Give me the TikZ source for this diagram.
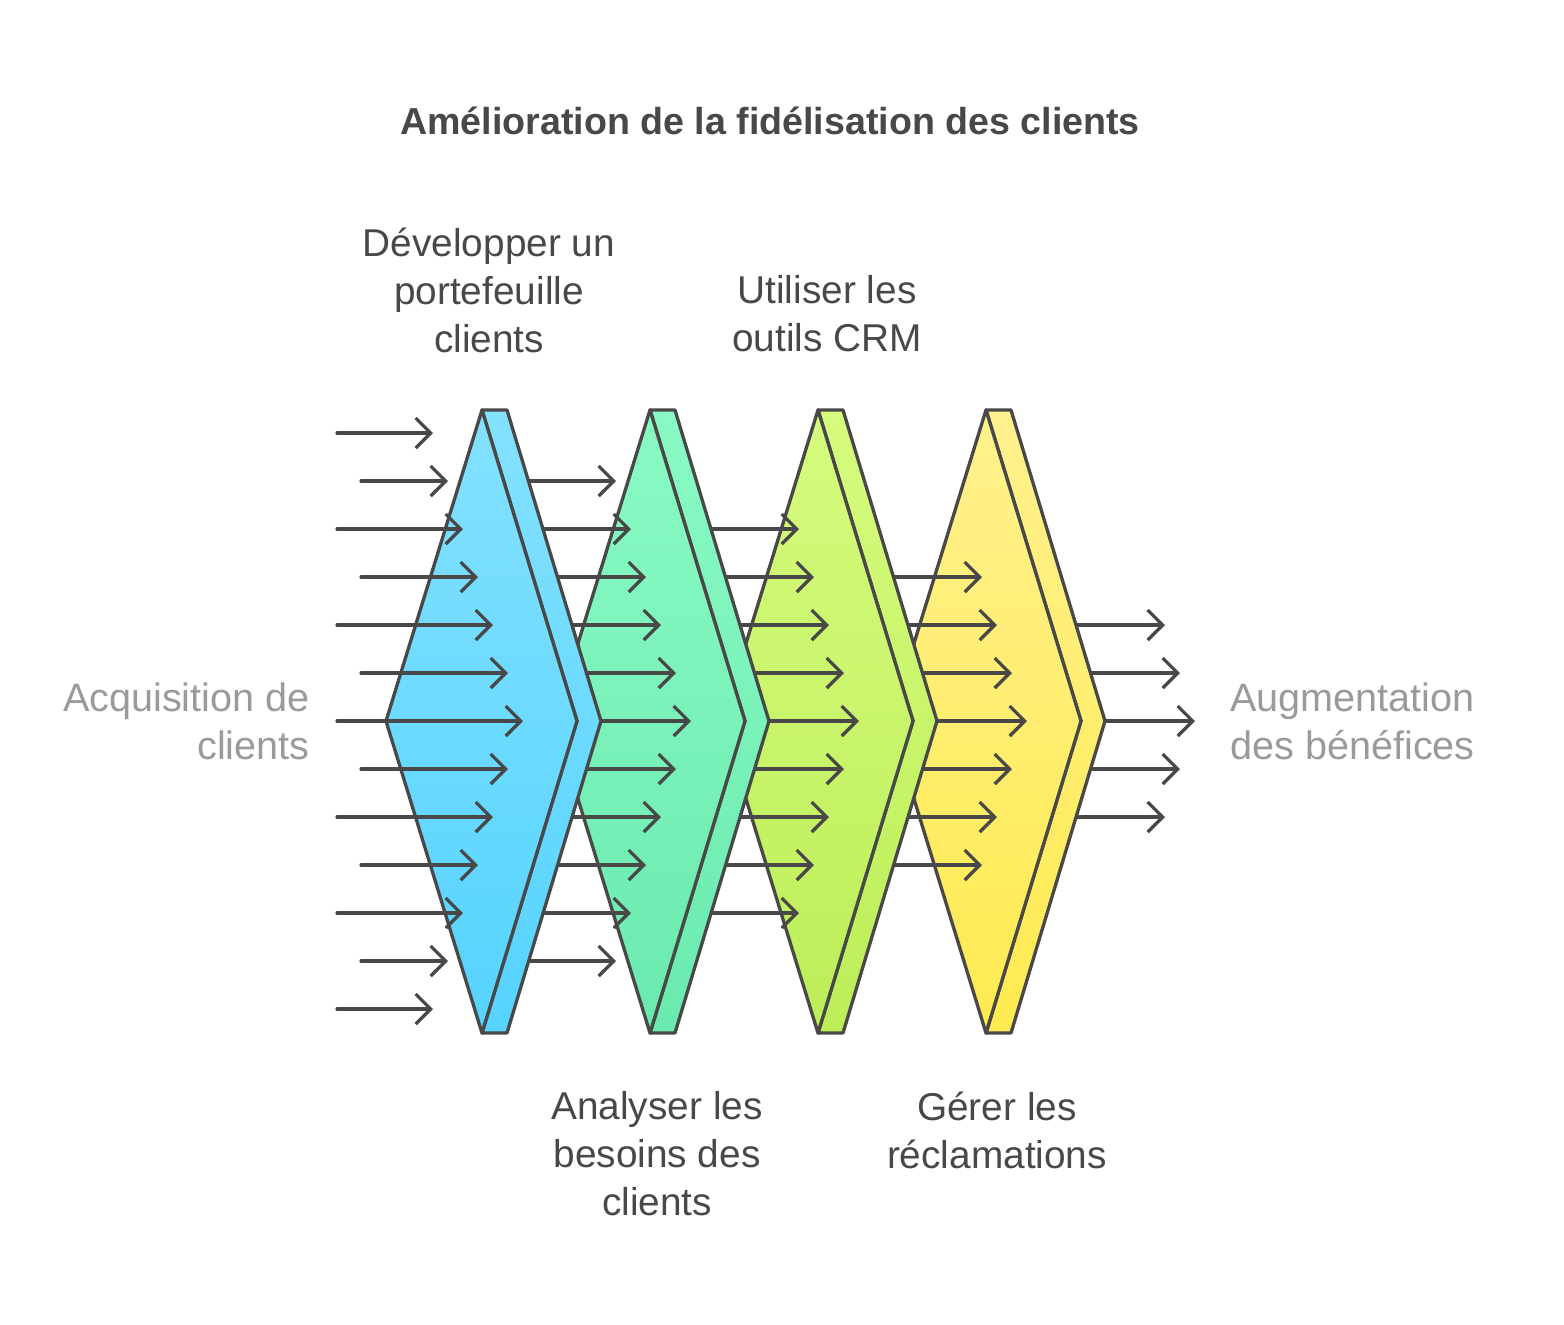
\documentclass[tikz,border=0pt]{standalone}
\usepackage{fontspec}
\setmainfont{Liberation Sans}
\usetikzlibrary{arrows.meta, positioning}

\definecolor{ink}{HTML}{484848}
\definecolor{soft}{HTML}{9A9A9A}
\definecolor{blueT}{HTML}{84E1FF}
\definecolor{blueB}{HTML}{55D3FF}
\definecolor{greenT}{HTML}{8AFAC4}
\definecolor{greenB}{HTML}{6AEAAF}
\definecolor{limeT}{HTML}{D6FB7E}
\definecolor{limeB}{HTML}{BCEE58}
\definecolor{yelT}{HTML}{FFF18E}
\definecolor{yelB}{HTML}{FFEA50}

\begin{document}
\begin{tikzpicture}[x=0.5pt, y=-0.5pt, line join=round,
    flow/.style={draw=ink, line width=1.65pt, line cap=round,
      -{Straight Barb[length=7.5pt, width=15pt, line width=1.65pt]}},
    plate/.style={draw=ink, line width=1.65pt},
    label/.style={text=ink, align=center, inner sep=0pt, font=\fontsize{19.4}{24}\selectfont},
    side/.style={text=soft, inner sep=0pt, font=\fontsize{19.8}{24}\selectfont}]
        \useasboundingbox (0,0) rectangle (1564,1324);

        % Plates, right to left, each over the arrows that leave it
        \foreach \j/\ct/\cb in {4/yelT/yelB, 3/limeT/limeB, 2/greenT/greenB, 1/blueT/blueB} {
            \pgfmathtruncatemacro\n{6-\j}
            \pgfmathsetmacro\sx{490+168*(\j-1)}
            \foreach \i in {-\n,...,\n} {
                \pgfmathsetmacro\tx{523-15*abs(\i)+168*\j}
                \draw[flow] (\sx,721+48*\i) -- (\tx,721+48*\i);
            }
            \pgfmathsetmacro\xo{482+168*(\j-1)}
            \coordinate (top\j) at (\xo,410);
            \path[plate, top color=\ct, bottom color=\cb] (top\j) -- ++(25,0) -- ++(94,311) -- ++(-94,312) -- ++(-25,0) -- ++(95,-312) -- cycle;
            \path[plate, top color=\ct, bottom color=\cb] (top\j) -- ++(-96,311) -- ++(96,312) -- ++(95,-312) -- cycle;
        }

        % Incoming arrows
        \foreach \i in {-6,...,6} {
            \pgfmathsetmacro\sx{mod(abs(\i),2)==1 ? 361 : 337}
            \pgfmathsetmacro\tx{523-15*abs(\i)}
            \draw[flow] (\sx,721+48*\i) -- (\tx,721+48*\i);
        }

        % Labels
        \node (title) [text=ink, inner sep=0pt, font=\fontsize{18.8}{24}\selectfont\bfseries] at (770,121) {Amélioration de la fidélisation des clients};
        \node (develop) [label] at (489,290) {Développer un\\portefeuille\\clients};
        \node (crm) [label] at (827,314) {Utiliser les\\outils CRM};
        \node (needs) [label] at (657,1154) {Analyser les\\besoins des\\clients};
        \node (claims) [label] at (997,1130) {Gérer les\\réclamations};
        \node (acq) [side, anchor=east, align=right] at (310,721) {Acquisition de\\clients};
        \node (profit) [side, anchor=west, align=left] at (1230,721) {Augmentation\\des bénéfices};
    \end{tikzpicture}
\end{document}
